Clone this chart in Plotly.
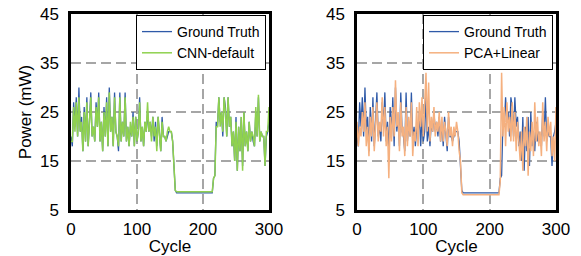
import plotly.graph_objects as go

cycles = list(range(0, 301, 2))

ground_truth = [
    20, 18, 27, 22, 28, 20, 30, 21, 24, 17,
    26, 19, 28, 18, 23, 29, 20, 22, 19, 27,
    22, 29, 19, 23, 17, 26, 20, 28, 18, 30,
    21, 24, 18, 29, 21, 20, 17, 29, 19, 23,
    20, 29, 19, 22, 18, 22, 20, 25, 18, 24,
    19, 21, 28, 19, 22, 18, 23, 21, 25, 21,
    23, 20, 24, 19, 23, 18, 24, 21, 17, 24,
    20, 20, 19, 20, 21, 21, 21, 19, 15, 9,
    8.5, 8.5, 8.5, 8.5, 8.5, 8.5, 8.5, 8.5, 8.5, 8.5,
    8.5, 8.5, 8.5, 8.5, 8.5, 8.5, 8.5, 8.5, 8.5, 8.5,
    8.5, 8.5, 8.5, 8.5, 8.5, 8.5, 8.5, 8.5, 11.5, 12,
    23, 22, 28, 23, 25, 20, 28, 26, 20, 28,
    22, 24, 18, 21, 15, 24, 13, 22, 17, 24,
    14, 25, 18, 21, 17, 23, 19, 21, 19, 18,
    25, 20, 28, 19, 21, 20, 20, 14, 20, 21,
    23,
]

cnn_default = [
    19, 19, 26, 21, 27, 20, 28, 21, 23, 17,
    25, 19, 27, 18, 23, 28, 20, 22, 19, 26,
    22, 28, 19, 23, 17, 25, 20, 27, 18, 29,
    21, 24, 18, 28, 21, 20, 18, 28, 19, 23,
    20, 28, 19, 22, 18, 23, 20, 24, 18, 24,
    19, 21, 27, 19, 22, 18, 23, 21, 27, 21,
    23, 19, 24, 20, 22, 17, 24, 21, 17, 23,
    20, 20, 19, 21, 22, 21, 21, 19, 15, 9,
    8.7, 8.7, 8.7, 8.7, 8.7, 8.7, 8.7, 8.7, 8.7, 8.7,
    8.7, 8.7, 8.7, 8.7, 8.7, 8.7, 8.7, 8.7, 8.7, 8.7,
    8.7, 8.7, 8.7, 8.7, 8.7, 8.7, 8.7, 8.7, 11.5, 12,
    22, 22, 28, 22, 25, 21, 28, 25, 20, 28,
    22, 24, 18, 21, 15, 23, 13, 22, 17, 24,
    13, 25, 18, 21, 17, 23, 19, 21, 20, 18,
    26, 20, 28.5, 19, 21, 20, 20, 14, 21, 21,
    26,
]

pca_linear = [
    23, 18, 22, 20, 25, 21, 27, 18, 22, 16,
    24, 20, 26, 17, 22, 27, 19, 23, 21, 28,
    20, 26, 18, 22, 11.5, 24, 19, 26, 20, 31.5,
    22, 25, 17, 27, 20, 22, 16, 26, 18, 24,
    20, 27, 16, 21, 19, 26, 18, 27, 22, 28,
    20, 26, 33, 21, 31, 19, 24, 21, 26, 20,
    23, 21, 25, 19, 24, 19, 23, 21, 18, 25,
    20, 22, 18, 22, 20, 23, 21, 17, 15, 8.5,
    8.1, 8.1, 8.1, 8.1, 8.1, 8.1, 8.1, 8.1, 8.1, 8.1,
    8.1, 8.1, 8.1, 8.1, 8.1, 8.1, 8.1, 8.1, 8.1, 8.1,
    8.1, 8.1, 8.1, 8.1, 8.1, 8.1, 8.1, 8.1, 11, 33,
    20, 26, 18, 27, 21, 24, 19, 27, 19, 25,
    17, 23, 19, 15, 21, 13, 22, 18, 24, 12,
    21, 17, 23, 16, 27, 19, 24, 18, 21, 16,
    27, 19, 23, 17, 24, 20, 23, 16, 20, 15,
    26,
]

x_ticks = [0, 100, 200, 300]
y_ticks = [5, 15, 25, 35, 45]

GT_COLOR = "#2F5AA8"
CNN_COLOR = "#8FD14F"
PCA_COLOR = "#F5B07F"
FONT = "Liberation Sans, Arial, sans-serif"

W, H = 581, 256

fig = go.Figure()
fig.add_trace(go.Scatter(x=cycles, y=ground_truth, mode="lines", name="Ground Truth",
                         line=dict(color=GT_COLOR, width=1.3), xaxis="x", yaxis="y", legend="legend"))
fig.add_trace(go.Scatter(x=cycles, y=cnn_default, mode="lines", name="CNN-default",
                         line=dict(color=CNN_COLOR, width=1.5), xaxis="x", yaxis="y", legend="legend"))
fig.add_trace(go.Scatter(x=cycles, y=ground_truth, mode="lines", name="Ground Truth",
                         line=dict(color=GT_COLOR, width=1.3), xaxis="x2", yaxis="y2", legend="legend2"))
fig.add_trace(go.Scatter(x=cycles, y=pca_linear, mode="lines", name="PCA+Linear",
                         line=dict(color=PCA_COLOR, width=1.5), xaxis="x2", yaxis="y2", legend="legend2"))

xa = dict(range=[0, 300], tickvals=x_ticks, showgrid=True, gridcolor="#A6A6A6", griddash="10px,5px",
          gridwidth=1.5, showline=True, linecolor="black", linewidth=2.5, mirror=True,
          ticks="outside", ticklen=2, tickcolor="rgba(0,0,0,0)", zeroline=False, automargin=False,
          ticklabeloverflow="allow",
          tickfont=dict(size=17, color="black", family=FONT),
          title=dict(text="Cycle", font=dict(size=17, color="black", family=FONT), standoff=0))
ya = dict(range=[5, 45], tickvals=y_ticks, showgrid=True, gridcolor="#A6A6A6", griddash="10px,5px",
          gridwidth=1.5, showline=True, linecolor="black", linewidth=2.5, mirror=True,
          ticks="outside", ticklen=6, tickcolor="rgba(0,0,0,0)", zeroline=False, automargin=False,
          ticklabeloverflow="allow",
          tickfont=dict(size=17, color="black", family=FONT))

legend_style = dict(bgcolor="white", bordercolor="black", borderwidth=1,
                    font=dict(size=14, color="black", family=FONT),
                    xanchor="right", yanchor="top", itemwidth=30, tracegroupgap=0)

def px_x(p):
    return p / W

def px_y(p):
    return (H - p) / H

fig.update_layout(
    width=W, height=H,
    margin=dict(l=0, r=0, t=0, b=0, autoexpand=False),
    paper_bgcolor="white", plot_bgcolor="white",
    font=dict(family=FONT, color="black"),
    xaxis=dict(xa, domain=[px_x(71), px_x(269)], anchor="y"),
    yaxis=dict(ya, domain=[px_y(210), px_y(14)], anchor="x",
               title=dict(text="Power (mW)", font=dict(size=17, color="black", family=FONT), standoff=4)),
    xaxis2=dict(xa, domain=[px_x(357), px_x(556)], anchor="y2"),
    yaxis2=dict(ya, domain=[px_y(210), px_y(14)], anchor="x2"),
    legend=dict(legend_style, x=px_x(266), y=px_y(15)),
    legend2=dict(legend_style, x=px_x(553), y=px_y(15)),
    showlegend=True,
)

fig.write_html("out.html", config={"displayModeBar": False},
               post_script="document.body.style.margin='0';document.body.style.overflow='hidden';")
